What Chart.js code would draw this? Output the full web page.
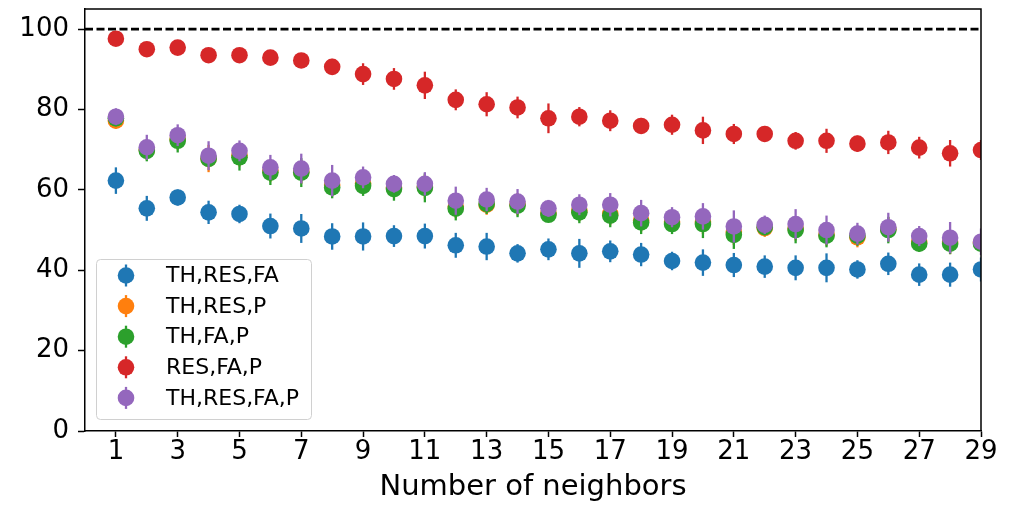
<!DOCTYPE html>
<html>
<head>
<meta charset="utf-8">
<script src="https://cdn.jsdelivr.net/npm/chart.js@4.4.1/dist/chart.umd.min.js"></script>
<style>
  html, body { margin: 0; padding: 0; background: #ffffff; }
  canvas { display: block; }
</style>
</head>
<body>
<canvas id="chart" width="1012" height="506"></canvas>
<script>
// Accuracy (%) versus number of neighbors for each feature combination
const neighbors = [1, 2, 3, 4, 5, 6, 7, 8, 9, 10, 11, 12, 13, 14, 15, 16, 17, 18, 19, 20, 21, 22, 23, 24, 25, 26, 27, 28, 29];
const xTickValues = [1, 3, 5, 7, 9, 11, 13, 15, 17, 19, 21, 23, 25, 27, 29];
const yTickValues = [0, 20, 40, 60, 80, 100];
const referenceLevel = 100;

const seriesNames = ['TH,RES,FA', 'TH,RES,P', 'TH,FA,P', 'RES,FA,P', 'TH,RES,FA,P'];
const seriesColors = ['#1f77b4', '#ff7f0e', '#2ca02c', '#d62728', '#9467bd'];

const thResFa    = [62.3, 55.4, 58.1, 54.4, 54.0, 51.0, 50.4, 48.4, 48.4, 48.5, 48.5, 46.2, 45.9, 44.2, 45.2, 44.2, 44.7, 43.9, 42.3, 41.9, 41.3, 40.9, 40.6, 40.6, 40.2, 41.6, 38.9, 38.9, 40.2];
const thResFaErr = [3.3, 3.1, 2.0, 2.9, 2.3, 3.1, 3.6, 3.3, 3.5, 2.7, 3.1, 3.1, 3.4, 2.3, 2.7, 3.6, 2.7, 2.9, 2.3, 3.3, 3.0, 2.8, 3.1, 3.6, 2.3, 2.8, 2.8, 3.0, 3.0];

const thResP     = [77.2, 70.0, 72.6, 67.8, 68.6, 64.8, 64.5, 61.2, 61.6, 60.6, 60.8, 55.8, 56.3, 56.4, 54.2, 54.8, 54.0, 52.4, 52.0, 52.0, 49.5, 50.5, 50.4, 48.9, 48.2, 50.2, 47.0, 47.0, 46.9];
const thResPErr  = [2.0, 2.6, 2.6, 3.4, 2.8, 2.8, 3.0, 2.8, 2.5, 2.6, 3.0, 2.8, 2.5, 2.8, 2.0, 2.6, 2.8, 2.8, 2.4, 3.0, 3.2, 2.2, 3.0, 2.8, 2.5, 3.0, 2.2, 3.0, 2.2];

const thFaP      = [77.8, 69.7, 72.2, 67.7, 68.1, 64.3, 64.3, 60.6, 61.0, 60.2, 60.5, 55.3, 56.5, 56.1, 53.8, 54.4, 53.6, 51.9, 51.5, 51.5, 48.8, 50.7, 50.0, 48.6, 48.6, 50.0, 46.6, 46.6, 46.6];
const thFaPErr   = [2.0, 2.6, 2.9, 1.8, 3.3, 3.1, 3.6, 2.7, 2.5, 2.9, 3.6, 2.9, 2.5, 2.9, 1.8, 2.7, 2.9, 2.9, 2.5, 3.5, 3.5, 2.0, 3.3, 2.9, 2.5, 3.3, 2.0, 2.6, 2.0];

const resFaP     = [97.6, 95.0, 95.4, 93.5, 93.5, 92.9, 92.2, 90.6, 88.8, 87.6, 86.0, 82.4, 81.3, 80.5, 77.8, 78.2, 77.2, 75.9, 76.2, 74.8, 73.9, 73.9, 72.2, 72.2, 71.5, 71.8, 70.5, 69.1, 69.9];
const resFaPErr  = [1.5, 1.0, 1.0, 1.0, 1.0, 1.0, 1.0, 2.0, 2.7, 2.7, 3.4, 2.6, 3.0, 2.7, 3.7, 2.4, 2.6, 2.0, 2.5, 3.4, 2.5, 2.0, 2.2, 3.0, 2.0, 2.9, 2.7, 3.3, 2.5];

const thResFaP   = [78.2, 70.6, 73.6, 68.5, 69.7, 65.6, 65.3, 62.3, 63.1, 61.5, 61.5, 57.3, 57.6, 57.1, 55.4, 56.3, 56.3, 54.2, 53.2, 53.4, 50.9, 51.3, 51.5, 50.0, 49.1, 50.7, 48.5, 48.1, 47.1];
const thResFaPErr= [2.1, 3.1, 2.7, 3.6, 2.6, 3.1, 3.7, 3.9, 2.7, 2.2, 2.9, 3.5, 2.9, 3.1, 2.1, 2.6, 2.9, 3.3, 2.5, 3.3, 4.0, 2.3, 3.7, 3.6, 2.7, 3.6, 2.5, 3.9, 3.3];

const seriesValues = [thResFa, thResP, thFaP, resFaP, thResFaP];
const seriesErrors = [thResFaErr, thResPErr, thFaPErr, resFaPErr, thResFaPErr];

const FONT = "'DejaVu Sans', sans-serif";
const MARKER_RADIUS = 8.3;
const ERR_WIDTH = 2.3;

// Vertical error bars, drawn just before each series' markers
const errorBarPlugin = {
  id: 'errorBars',
  beforeDatasetDraw(chart, args) {
    const ds = chart.data.datasets[args.index];
    if (!ds.errors) return;
    const { ctx, chartArea } = chart;
    const xs = chart.scales.x, ys = chart.scales.y;
    ctx.save();
    ctx.beginPath();
    ctx.rect(chartArea.left, chartArea.top, chartArea.right - chartArea.left, chartArea.bottom - chartArea.top);
    ctx.clip();
    ctx.strokeStyle = ds.backgroundColor;
    ctx.lineWidth = ERR_WIDTH;
    ctx.lineCap = 'butt';
    ds.data.forEach((p, i) => {
      const e = ds.errors[i];
      const px = xs.getPixelForValue(p.x);
      ctx.beginPath();
      ctx.moveTo(px, ys.getPixelForValue(p.y - e));
      ctx.lineTo(px, ys.getPixelForValue(p.y + e));
      ctx.stroke();
    });
    ctx.restore();
  }
};

// Closed frame around the plotting area
const framePlugin = {
  id: 'frame',
  afterDraw(chart) {
    const { ctx, chartArea: a } = chart;
    ctx.save();
    ctx.strokeStyle = '#000000';
    ctx.lineWidth = 1.5;
    ctx.beginPath();
    ctx.moveTo(a.left, a.top);
    ctx.lineTo(a.right, a.top);
    ctx.lineTo(a.right, a.bottom);
    ctx.stroke();
    ctx.restore();
  }
};

// Legend box inside the lower-left corner of the plot
const insetLegendPlugin = {
  id: 'insetLegend',
  afterDatasetsDraw(chart) {
    const { ctx, chartArea: a } = chart;
    const boxW = 215, boxH = 160;
    const left = a.left + 11, top = a.bottom - 12 - boxH;
    ctx.save();
    ctx.beginPath();
    ctx.roundRect(left + 0.5, top + 0.5, boxW, boxH, 4);
    ctx.fillStyle = 'rgba(255,255,255,0.8)';
    ctx.fill();
    ctx.strokeStyle = '#d0d0d0';
    ctx.lineWidth = 1;
    ctx.stroke();
    ctx.font = '22px ' + FONT;
    ctx.textBaseline = 'middle';
    ctx.textAlign = 'left';
    seriesNames.forEach((name, i) => {
      const cy = top + 16.5 + i * 30.6;
      const mx = left + 30;
      ctx.strokeStyle = seriesColors[i];
      ctx.lineWidth = ERR_WIDTH;
      ctx.beginPath();
      ctx.moveTo(mx, cy - 11);
      ctx.lineTo(mx, cy + 11);
      ctx.stroke();
      ctx.fillStyle = seriesColors[i];
      ctx.beginPath();
      ctx.arc(mx, cy, MARKER_RADIUS, 0, Math.PI * 2);
      ctx.fill();
      ctx.fillStyle = '#000000';
      ctx.fillText(name, left + 70, cy + 1);
    });
    ctx.restore();
  }
};

const datasets = seriesNames.map((name, s) => ({
  type: 'scatter',
  label: name,
  data: neighbors.map((n, i) => ({ x: n, y: seriesValues[s][i] })),
  errors: seriesErrors[s],
  backgroundColor: seriesColors[s],
  borderWidth: 0,
  pointRadius: MARKER_RADIUS,
  pointHoverRadius: MARKER_RADIUS,
  clip: 0,
  order: seriesNames.length - s
}));

datasets.push({
  type: 'line',
  label: 'reference',
  data: [{ x: 0, y: referenceLevel }, { x: 29, y: referenceLevel }],
  borderColor: '#000000',
  borderWidth: 2.6,
  borderDash: [8, 3.5],
  pointRadius: 0,
  fill: false,
  order: 10
});

// Axis labels sit inside the reserved margins, so no extra edge padding is needed
const noEdgePadding = s => { s.paddingTop = 0; s.paddingBottom = 0; s.paddingLeft = 0; s.paddingRight = 0; };

new Chart(document.getElementById('chart'), {
  type: 'scatter',
  data: { datasets },
  plugins: [errorBarPlugin, framePlugin, insetLegendPlugin],
  options: {
    responsive: false,
    devicePixelRatio: 1,
    animation: false,
    events: [],
    layout: { autoPadding: false, padding: { left: 0, right: 31, top: 9, bottom: 0 } },
    plugins: { legend: { display: false }, tooltip: { enabled: false } },
    scales: {
      x: {
        type: 'linear',
        min: 0,
        max: 29,
        afterBuildTicks: s => { s.ticks = xTickValues.map(v => ({ value: v })); },
        afterFit: s => { s.height = 75; noEdgePadding(s); },
        ticks: { font: { family: FONT, size: 26 }, color: '#000000', padding: 0, maxRotation: 0, autoSkip: false },
        grid: { drawOnChartArea: false, drawTicks: true, tickLength: 6, tickWidth: 1.5, tickColor: '#000000' },
        border: { display: true, color: '#000000', width: 1.5 },
        title: { display: true, text: 'Number of neighbors', color: '#000000', font: { family: FONT, size: 29 }, padding: { top: 0, bottom: 1 } }
      },
      y: {
        type: 'linear',
        min: 0,
        max: 105,
        afterBuildTicks: s => { s.ticks = yTickValues.map(v => ({ value: v })); },
        afterFit: s => { s.width = 85; noEdgePadding(s); },
        ticks: { font: { family: FONT, size: 26 }, color: '#000000', padding: 9 },
        grid: { drawOnChartArea: false, drawTicks: true, tickLength: 7, tickWidth: 1.5, tickColor: '#000000' },
        border: { display: true, color: '#000000', width: 1.5 }
      }
    }
  }
});
</script>
</body>
</html>
